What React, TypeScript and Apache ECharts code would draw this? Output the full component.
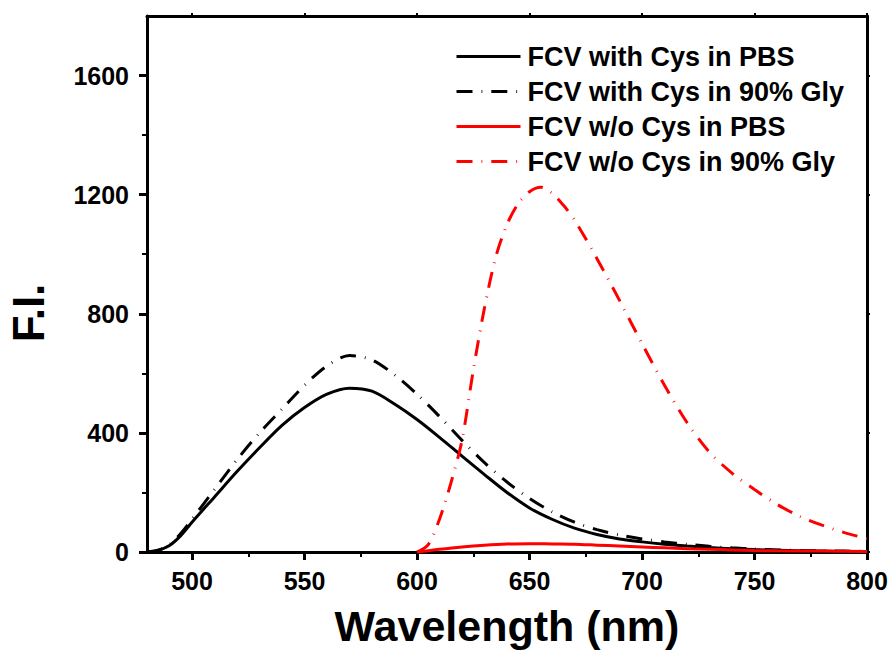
import React, { useEffect, useRef } from "react";
import * as echarts from "echarts";

// Wavelength (nm) and fluorescence intensity values
const wlWithCys = [480, 485, 490, 495, 500, 510, 520, 530, 540, 550, 560, 570, 580, 590, 600, 610, 620, 630, 640, 650, 660, 670, 680, 690, 700, 710, 720, 730, 740, 750, 760, 770, 780, 790, 800];
const fiWithCysPBS = [0, 6, 22, 55, 100, 185, 270, 350, 425, 485, 530, 550, 540, 497, 445, 385, 322, 260, 200, 148, 110, 80, 59, 44, 34, 26, 20, 15, 11, 8, 6, 4, 3, 2, 2];
const fiWithCysGly = [0, 6, 25, 62, 110, 210, 310, 400, 480, 560, 625, 660, 645, 595, 530, 455, 375, 300, 235, 180, 135, 100, 75, 57, 44, 34, 26, 19, 14, 10, 7, 5, 4, 3, 2];

const wlWoCysPBS = [600, 605, 610, 620, 630, 640, 650, 660, 670, 680, 690, 700, 710, 720, 730, 740, 750, 760, 780, 800];
const fiWoCysPBS = [0, 4, 9, 17, 23, 27, 28, 27, 26, 23, 20, 17, 14, 11, 9, 7, 5, 4, 3, 2];

const wlWoCysGly = [600, 605, 610, 615, 620, 625, 630, 635, 640, 645, 650, 655, 660, 665, 670, 680, 690, 700, 710, 720, 730, 740, 750, 760, 770, 780, 790, 800];
const fiWoCysGly = [0, 25, 110, 230, 375, 610, 820, 990, 1100, 1170, 1210, 1225, 1205, 1165, 1115, 985, 845, 700, 560, 435, 335, 265, 210, 160, 120, 90, 65, 45];

const seriesNames = [
  "FCV with Cys in PBS",
  "FCV with Cys in 90% Gly",
  "FCV w/o Cys in PBS",
  "FCV w/o Cys in 90% Gly",
];

const xMajorTicks = [500, 550, 600, 650, 700, 750, 800];
const xMinorTicks = [525, 575, 625, 675, 725, 775];
const yMajorTicks = [0, 400, 800, 1200, 1600];
const yMinorTicks = [200, 600, 1000, 1400];

const xTitle = "Wavelength (nm)";
const yTitle = "F.I.";

const FONT = "'Liberation Sans', Arial, sans-serif";
const DASH = [16, 9, 0.8, 9];

function pairs(xs: number[], ys: number[]) {
  return xs.map((x, i) => [x, ys[i]]);
}

export default function App() {
  const ref = useRef<HTMLDivElement>(null);

  useEffect(() => {
    if (!ref.current) return;
    const chart = echarts.init(ref.current, undefined, { renderer: "svg" });
    const axisLineStyle = { color: "#000", width: 3 };
    const tickStyle = { color: "#000", width: 3 };
    const minorTickStyle = { color: "#000", width: 2 };

    const option: any = {
      animation: false,
      backgroundColor: "#fff",
      grid: { left: 147, right: 27, top: 16, bottom: 103, containLabel: false, outerBoundsMode: "none" },
      legend: {
        orient: "vertical",
        left: 450,
        top: 38,
        itemWidth: 64,
        itemHeight: 14,
        itemGap: 8,
        data: seriesNames,
        itemStyle: { opacity: 0 },
        lineStyle: { width: 3 },
        textStyle: {
          fontFamily: FONT,
          fontWeight: "bold",
          fontSize: 27,
          lineHeight: 27,
          color: "#000",
          padding: [0, 0, 0, 2],
        },
      },
      xAxis: [
        {
          type: "value",
          min: 480,
          max: 800,
          position: "bottom",
          axisLine: { show: true, onZero: false, lineStyle: axisLineStyle },
          axisTick: { show: true, customValues: xMajorTicks, length: 8, lineStyle: tickStyle },
          axisLabel: {
            customValues: xMajorTicks,
            margin: 16,
            fontFamily: FONT,
            fontWeight: "bold",
            fontSize: 25,
            color: "#000",
            formatter: (v: number) => String(v),
          },
          splitLine: { show: false },
          name: xTitle,
          nameLocation: "middle",
          nameGap: 52,
          nameTextStyle: { fontFamily: FONT, fontWeight: "bold", fontSize: 43, color: "#000" },
        },
        {
          type: "value",
          min: 480,
          max: 800,
          position: "bottom",
          axisLine: { show: false, onZero: false },
          axisTick: { show: true, customValues: xMinorTicks, length: 5, lineStyle: minorTickStyle },
          axisLabel: { show: false },
          splitLine: { show: false },
        },
        {
          type: "value",
          min: 480,
          max: 800,
          position: "top",
          axisLine: { show: true, onZero: false, lineStyle: axisLineStyle },
          axisTick: { show: true, customValues: xMajorTicks, length: 3, lineStyle: minorTickStyle },
          axisLabel: { show: false },
          splitLine: { show: false },
        },
      ],
      yAxis: [
        {
          type: "value",
          min: 0,
          max: 1800,
          position: "left",
          axisLine: { show: true, onZero: false, lineStyle: axisLineStyle },
          axisTick: { show: true, customValues: yMajorTicks, length: 8, lineStyle: tickStyle },
          axisLabel: {
            customValues: yMajorTicks,
            margin: 18,
            fontFamily: FONT,
            fontWeight: "bold",
            fontSize: 25,
            color: "#000",
            formatter: (v: number) => String(v),
          },
          splitLine: { show: false },
        },
        {
          type: "value",
          min: 0,
          max: 1800,
          position: "left",
          axisLine: { show: false, onZero: false },
          axisTick: { show: true, customValues: yMinorTicks, length: 5, lineStyle: minorTickStyle },
          axisLabel: { show: false },
          splitLine: { show: false },
        },
        {
          type: "value",
          min: 0,
          max: 1800,
          position: "right",
          axisLine: { show: true, onZero: false, lineStyle: axisLineStyle },
          axisTick: { show: true, customValues: yMajorTicks, length: 3, lineStyle: minorTickStyle },
          axisLabel: { show: false },
          splitLine: { show: false },
        },
      ],
      graphic: [
        {
          type: "text",
          x: 28,
          y: 313,
          rotation: Math.PI / 2,
          style: {
            text: yTitle,
            fontFamily: FONT,
            fontWeight: "bold",
            fontSize: 44,
            fill: "#000",
            align: "center",
            verticalAlign: "middle",
          },
        },
      ],
      series: [
        {
          name: seriesNames[0],
          type: "line",
          data: pairs(wlWithCys, fiWithCysPBS),
          smooth: 0.3,
          showSymbol: false,
          symbol: "none",
          color: "#000",
          lineStyle: { color: "#000", width: 3, type: "solid" },
          z: 3,
        },
        {
          name: seriesNames[1],
          type: "line",
          data: pairs(wlWithCys, fiWithCysGly),
          smooth: 0.3,
          showSymbol: false,
          symbol: "none",
          color: "#000",
          lineStyle: { color: "#000", width: 3, type: DASH },
          z: 3,
        },
        {
          name: seriesNames[2],
          type: "line",
          data: pairs(wlWoCysPBS, fiWoCysPBS),
          smooth: 0.3,
          showSymbol: false,
          symbol: "none",
          color: "#ff0000",
          lineStyle: { color: "#ff0000", width: 3, type: "solid" },
          z: 4,
        },
        {
          name: seriesNames[3],
          type: "line",
          data: pairs(wlWoCysGly, fiWoCysGly),
          smooth: 0.3,
          showSymbol: false,
          symbol: "none",
          color: "#ff0000",
          lineStyle: { color: "#ff0000", width: 3, type: DASH },
          z: 4,
        },
      ],
    };
    chart.setOption(option);
    return () => chart.dispose();
  }, []);

  return <div ref={ref} style={{ width: 894, height: 655, position: "absolute", left: 0, top: 0 }} />;
}
